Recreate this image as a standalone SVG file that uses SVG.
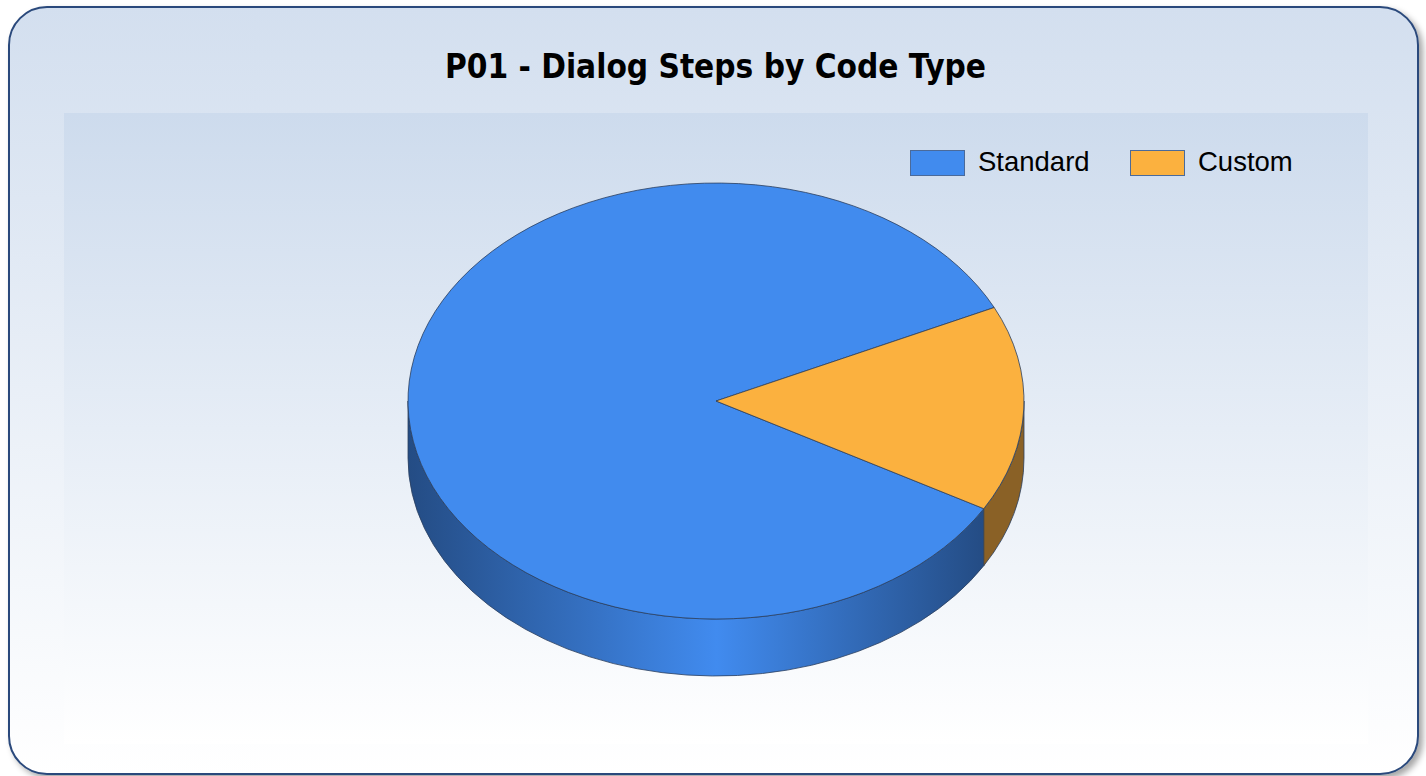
<svg xmlns="http://www.w3.org/2000/svg" width="1426" height="776" viewBox="0 0 1426 776">
<style>
.title{font-family:"DejaVu Sans Condensed","DejaVu Sans",Verdana,sans-serif;font-weight:bold;font-size:34px;fill:#000}
.leg{font-family:"Liberation Sans",Arial,sans-serif;font-size:27.5px;fill:#000}
.edge{stroke:#2b3f5e;stroke-width:0.8;stroke-linejoin:round}
.legbox{stroke:#4a6a9a;stroke-width:1}
</style>
<defs>
<linearGradient id="bg" x1="0" y1="0" x2="0" y2="1">
<stop offset="0" stop-color="#d3dfef"/>
<stop offset="1" stop-color="#ffffff"/>
</linearGradient>
<linearGradient id="plot" x1="0" y1="0" x2="0" y2="1">
<stop offset="0" stop-color="#cddbed"/>
<stop offset="1" stop-color="#ffffff"/>
</linearGradient>
<linearGradient id="blueSide" gradientUnits="userSpaceOnUse" x1="408" y1="0" x2="984" y2="0">
<stop offset="0" stop-color="#244c84"/>
<stop offset="0.536" stop-color="#418bef"/>
<stop offset="1" stop-color="#244c84"/>
</linearGradient>
<filter id="sh" x="-5%" y="-5%" width="110%" height="110%">
<feDropShadow dx="4" dy="4" stdDeviation="3" flood-color="#000" flood-opacity="0.35"/>
</filter>
</defs>
<g id="frame">
<rect x="9" y="7" width="1409" height="767" rx="38" ry="38" fill="url(#bg)" stroke="#2c4a7c" stroke-width="2" filter="url(#sh)"/>
<rect x="64" y="113" width="1304" height="631" fill="url(#plot)"/>
</g>
<g id="title">
<text class="title" x="445" y="78" textLength="541" lengthAdjust="spacingAndGlyphs">P01 - Dialog Steps by Code Type</text>
</g>
<g id="legend">
<g id="legend-standard">
<rect class="legbox" x="910.5" y="150.5" width="54" height="25" fill="#418bee"/>
<text class="leg" x="978" y="171">Standard</text>
</g>
<g id="legend-custom">
<rect class="legbox" x="1130.5" y="150.5" width="54" height="25" fill="#fbb13f"/>
<text class="leg" x="1198" y="171">Custom</text>
</g>
</g>
<g id="pie">
<g id="side-standard">
<path class="edge" d="M983.8,508.7 A308,218 0 0 1 408,401 L408,458 A308,218 0 0 0 983.8,565.7 Z" fill="url(#blueSide)"/>
</g>
<g id="side-custom">
<path class="edge" d="M1024,401 A308,218 0 0 1 983.8,508.7 L983.8,565.7 A308,218 0 0 0 1024,458 Z" fill="#8a6126"/>
</g>
<g id="slice-standard">
<path class="edge" d="M716,401 L983.8,508.7 A308,218 0 1 1 994.2,307.5 Z" fill="#418bee"/>
</g>
<g id="slice-custom">
<path class="edge" d="M716,401 L994.2,307.5 A308,218 0 0 1 983.8,508.7 Z" fill="#fbb13f"/>
</g>
</g>
</svg>
